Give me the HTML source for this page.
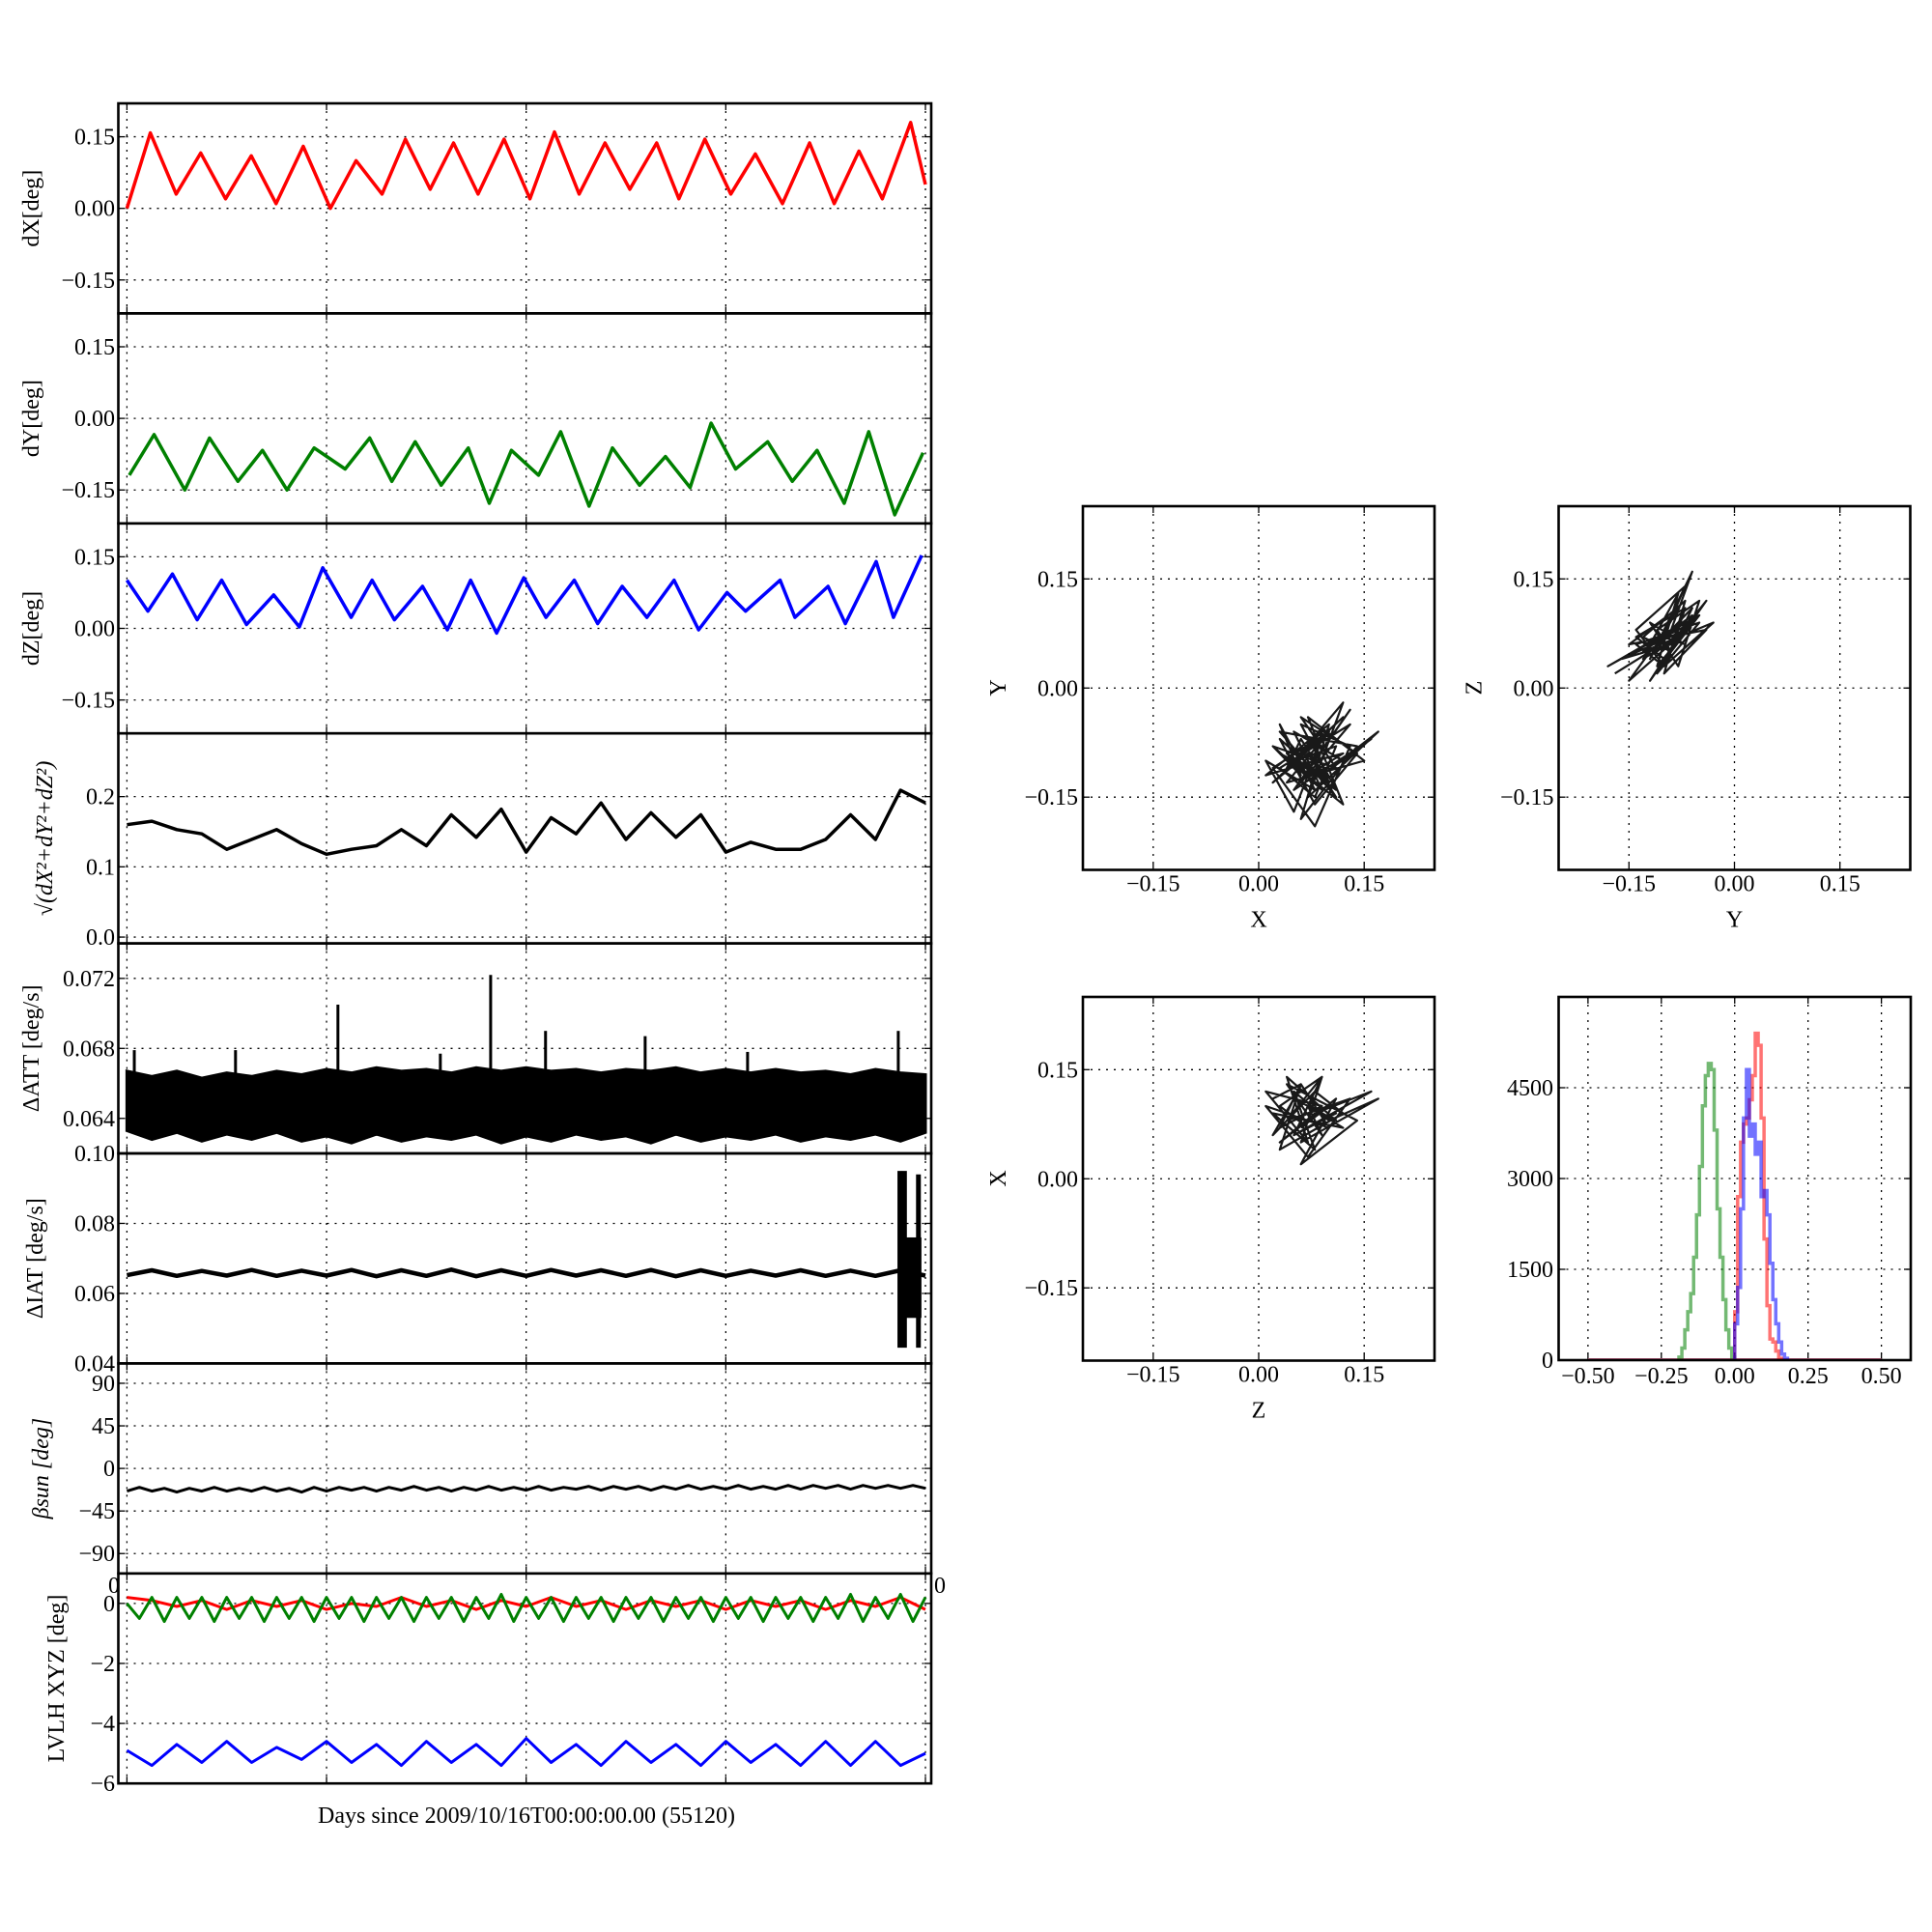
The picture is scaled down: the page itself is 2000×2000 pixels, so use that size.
<!DOCTYPE html>
<html><head><meta charset="utf-8"><style>
html,body{margin:0;padding:0;background:#fff;}
svg{display:block;font-family:"Liberation Serif",serif;}
</style></head><body>
<svg id="fig" width="2000" height="2000" viewBox="0 0 2000 2000" xmlns="http://www.w3.org/2000/svg"></svg>
<script>
// ---------------- data ----------------
const dxT=[0,0.117,0.247,0.370,0.494,0.623,0.747,0.883,1.019,1.148,1.278,1.395,1.519,1.636,1.759,1.889,2.019,2.142,2.265,2.395,2.519,2.654,2.765,2.895,3.025,3.148,3.284,3.420,3.543,3.667,3.784,3.926,4.0];
const dxV=[0.0,0.158,0.03,0.116,0.02,0.11,0.01,0.13,0.0,0.10,0.03,0.145,0.04,0.137,0.03,0.145,0.02,0.16,0.03,0.137,0.04,0.137,0.02,0.145,0.03,0.114,0.01,0.137,0.01,0.12,0.02,0.18,0.05];
const dyT=[0.012,0.136,0.290,0.414,0.556,0.679,0.802,0.938,1.093,1.216,1.327,1.444,1.574,1.710,1.815,1.926,2.062,2.173,2.315,2.432,2.568,2.698,2.821,2.926,3.049,3.210,3.333,3.457,3.593,3.716,3.846,3.988];
const dyV=[-0.119,-0.034,-0.150,-0.041,-0.132,-0.067,-0.150,-0.062,-0.106,-0.041,-0.132,-0.049,-0.140,-0.062,-0.178,-0.067,-0.119,-0.028,-0.184,-0.062,-0.140,-0.080,-0.145,-0.010,-0.106,-0.049,-0.132,-0.067,-0.178,-0.028,-0.202,-0.072];
const dzT=[0,0.105,0.228,0.352,0.475,0.599,0.735,0.864,0.981,1.123,1.228,1.340,1.481,1.605,1.722,1.852,1.988,2.099,2.241,2.358,2.481,2.605,2.741,2.864,3.006,3.099,3.272,3.346,3.512,3.599,3.753,3.840,3.981];
const dzV=[0.101,0.036,0.114,0.018,0.101,0.008,0.070,0.003,0.127,0.023,0.101,0.018,0.088,-0.003,0.101,-0.010,0.106,0.023,0.101,0.010,0.088,0.023,0.101,-0.003,0.075,0.036,0.101,0.023,0.088,0.010,0.140,0.023,0.153];
const normV=[0.160,0.165,0.153,0.147,0.125,0.139,0.153,0.133,0.118,0.125,0.130,0.153,0.130,0.174,0.142,0.182,0.121,0.170,0.147,0.191,0.139,0.177,0.142,0.174,0.121,0.135,0.125,0.125,0.139,0.174,0.139,0.209,0.191];
const attHi=[0.0667,0.0664,0.0667,0.0663,0.0666,0.0664,0.0667,0.0665,0.0668,0.0666,0.0669,0.0667,0.0668,0.0666,0.0669,0.0667,0.0669,0.0667,0.0668,0.0666,0.0668,0.0667,0.0669,0.0666,0.0668,0.0666,0.0668,0.0666,0.0667,0.0665,0.0668,0.0666,0.0665];
const attLo=[0.0633,0.0628,0.0632,0.0627,0.0631,0.0628,0.0632,0.0627,0.0630,0.0626,0.0631,0.0627,0.0630,0.0628,0.0631,0.0626,0.0630,0.0627,0.0631,0.0628,0.0630,0.0626,0.0631,0.0627,0.0630,0.0628,0.0631,0.0627,0.0630,0.0628,0.0631,0.0627,0.0632];
const spikeT=[0.037,0.544,1.057,1.570,1.822,2.097,2.596,3.109,3.864];
const spikeV=[0.0679,0.0679,0.0705,0.0677,0.0722,0.0690,0.0687,0.0678,0.0690];
const iatV=[0.0652,0.0666,0.0650,0.0664,0.0651,0.0667,0.0650,0.0665,0.0651,0.0667,0.0649,0.0666,0.0650,0.0668,0.0649,0.0666,0.0650,0.0667,0.0651,0.0666,0.0650,0.0667,0.0649,0.0666,0.0650,0.0665,0.0651,0.0666,0.0650,0.0665,0.0650,0.0666,0.0651];
const iatBlockT=[3.87,3.98];
const iatBlockV=[0.053,0.076];
const iatBlockSpikeT=[3.872,3.895,3.965];
const iatBlockSpikeLo=[0.0445,0.0445,0.0445];
const iatBlockSpikeHi=[0.0950,0.0950,0.0940];
const betaV=[-24,-20,-24,-21,-25,-21,-24,-20,-24,-21,-24,-20,-24,-21,-25,-20,-24,-20,-23,-20,-24,-20,-23,-19,-23,-20,-24,-20,-23,-19,-23,-20,-23,-19,-23,-20,-22,-19,-23,-19,-22,-19,-23,-19,-22,-18,-22,-19,-22,-18,-22,-19,-22,-18,-22,-18,-21,-18,-22,-18,-21,-18,-21,-18,-21];
const redV=[0.2,0.1,-0.1,0.1,-0.2,0.1,-0.1,0.1,-0.2,0.0,-0.1,0.2,-0.1,0.1,-0.2,0.1,-0.1,0.2,-0.1,0.1,-0.2,0.1,-0.1,0.1,-0.2,0.1,-0.1,0.1,-0.2,0.1,-0.1,0.2,-0.2];
const greenV=[0.0,-0.5,0.2,-0.6,0.2,-0.5,0.2,-0.6,0.2,-0.5,0.2,-0.6,0.2,-0.5,0.2,-0.6,0.2,-0.5,0.2,-0.6,0.2,-0.5,0.2,-0.6,0.2,-0.5,0.2,-0.6,0.2,-0.5,0.3,-0.6,0.2,-0.5,0.2,-0.6,0.2,-0.5,0.2,-0.6,0.2,-0.5,0.2,-0.6,0.2,-0.5,0.2,-0.6,0.2,-0.5,0.2,-0.6,0.2,-0.5,0.2,-0.6,0.2,-0.5,0.3,-0.6,0.2,-0.5,0.3,-0.6,0.2];
const blueV=[-4.9,-5.4,-4.7,-5.3,-4.6,-5.3,-4.8,-5.2,-4.6,-5.3,-4.7,-5.4,-4.6,-5.3,-4.7,-5.4,-4.5,-5.3,-4.7,-5.4,-4.6,-5.3,-4.7,-5.4,-4.6,-5.3,-4.7,-5.4,-4.6,-5.4,-4.6,-5.4,-5.0];
const xyX=[0.02,0.06,0.03,0.08,0.01,0.05,0.09,0.04,0.12,0.02,0.07,0.11,0.03,0.14,0.06,0.10,0.01,0.08,0.13,0.05,0.16,0.09,0.03,0.12,0.07,0.15,0.04,0.10,0.02,0.08,0.13,0.06,0.11,0.04,0.09,0.17,0.07,0.12,0.05,0.10,0.03,0.08,0.14,0.06,0.11,0.02,0.09,0.05,0.12,0.07,0.04,0.10,0.06,0.13,0.03,0.08,0.11,0.05,0.09,0.07,0.12,0.04,0.06,0.10,0.08];
const xyY=[-0.08,-0.12,-0.05,-0.14,-0.10,-0.17,-0.07,-0.11,-0.04,-0.13,-0.09,-0.15,-0.06,-0.08,-0.18,-0.05,-0.12,-0.10,-0.03,-0.14,-0.07,-0.12,-0.09,-0.16,-0.04,-0.10,-0.13,-0.06,-0.11,-0.19,-0.08,-0.05,-0.14,-0.09,-0.12,-0.06,-0.15,-0.02,-0.10,-0.13,-0.07,-0.16,-0.09,-0.04,-0.11,-0.08,-0.14,-0.06,-0.10,-0.12,-0.09,-0.07,-0.13,-0.05,-0.11,-0.15,-0.08,-0.10,-0.06,-0.12,-0.09,-0.11,-0.07,-0.13,-0.08];
const yzY=[-0.17,-0.12,-0.15,-0.08,-0.13,-0.06,-0.10,-0.14,-0.05,-0.11,-0.07,-0.16,-0.09,-0.04,-0.12,-0.06,-0.13,-0.08,-0.03,-0.10,-0.14,-0.07,-0.11,-0.05,-0.18,-0.09,-0.06,-0.12,-0.08,-0.15,-0.04,-0.10,-0.07,-0.13,-0.09,-0.05,-0.11,-0.08,-0.12,-0.06,-0.10,-0.14,-0.07,-0.09,-0.11,-0.05,-0.08,-0.12,-0.07,-0.10];
const yzZ=[0.02,0.05,0.01,0.07,0.04,0.11,0.03,0.06,0.09,0.02,0.08,0.04,0.06,0.12,0.01,0.10,0.05,0.07,0.09,0.03,0.08,0.14,0.05,0.10,0.03,0.08,0.16,0.04,0.11,0.06,0.08,0.02,0.12,0.07,0.05,0.10,0.03,0.13,0.06,0.09,0.04,0.07,0.11,0.05,0.08,0.12,0.03,0.09,0.06,0.07];
const zxZ=[0.02,0.06,0.03,0.09,0.01,0.07,0.04,0.11,0.05,0.02,0.08,0.12,0.03,0.06,0.10,0.01,0.07,0.13,0.04,0.09,0.05,0.16,0.08,0.03,0.11,0.06,0.14,0.04,0.09,0.07,0.12,0.02,0.08,0.05,0.10,0.17,0.06,0.09,0.03,0.07,0.11,0.05,0.08,0.04,0.10,0.06];
const zxX=[0.11,0.13,0.07,0.10,0.12,0.05,0.14,0.08,0.11,0.06,0.12,0.09,0.04,0.13,0.07,0.10,0.03,0.11,0.08,0.14,0.06,0.12,0.09,0.05,0.11,0.02,0.08,0.13,0.06,0.10,0.07,0.09,0.04,0.12,0.08,0.11,0.05,0.14,0.10,0.07,0.09,0.06,0.12,0.08,0.10,0.07];
const histBinsG=[-0.19,-0.18,-0.17,-0.16,-0.15,-0.14,-0.13,-0.12,-0.11,-0.10,-0.09,-0.08,-0.07,-0.06,-0.05,-0.04,-0.03,-0.02,-0.01];
const histG=[50,200,500,800,1100,1700,2400,3200,4200,4700,4900,4800,3800,2500,1700,1000,500,200,50];
const histBinsR=[0.00,0.01,0.02,0.03,0.04,0.05,0.06,0.07,0.08,0.09,0.10,0.11,0.12,0.13,0.14,0.15];
const histR=[800,2700,3600,3900,4000,4300,4700,5400,5200,4000,2000,900,350,300,150,30];
const histBinsB=[0.00,0.01,0.02,0.03,0.04,0.05,0.06,0.07,0.08,0.09,0.10,0.11,0.12,0.13,0.14,0.15,0.16,0.17];
const histB=[600,1200,2500,4000,4800,3700,3900,3400,3600,2700,2800,2400,1600,1000,600,300,100,30];
const dayTicks=[0,1,2,3,4];
const devTicks=[-0.15,0,0.15];
const devTickLabels=["\u22120.15","0.00","0.15"];
const histXTicks=[-0.5,-0.25,0,0.25,0.5];
const histXLabels=["\u22120.50","\u22120.25","0.00","0.25","0.50"];
const histYTicks=[0,1500,3000,4500];
const histYLabels=["0","1500","3000","4500"];

// ---------------- drawing ----------------
const NS="http://www.w3.org/2000/svg";
const FS=24;
const svg=document.getElementById('fig');
function el(tag,attrs,parent){const e=document.createElementNS(NS,tag);for(const k in attrs)e.setAttribute(k,attrs[k]);(parent||svg).appendChild(e);return e;}
function txt(s,x,y,opt,parent){const t=el('text',Object.assign({x:x,y:y,'font-size':FS,fill:'#000'},opt||{}),parent);t.textContent=s;return t;}
function mkAxes(name,x0,y0,w,h,xmin,xmax,ymin,ymax){
  const g=el('g',{});
  
  
  const sx=v=>x0+(v-xmin)/(xmax-xmin)*w;
  const sy=v=>y0+h-(v-ymin)/(ymax-ymin)*h;
  return {g,sx,sy,x0,y0,w,h};
}
function grid(a,xt,yt){
  xt.forEach(v=>{const x=a.sx(v);
    const l=el('line',{x1:x,x2:x,y1:a.y0,y2:a.y0+a.h,stroke:'#000','stroke-width':1.3,'stroke-dasharray':'2,6'},a.g);
    
    el('line',{x1:x,x2:x,y1:a.y0,y2:a.y0+7,stroke:'#000','stroke-width':1.3},a.g);
    el('line',{x1:x,x2:x,y1:a.y0+a.h,y2:a.y0+a.h-7,stroke:'#000','stroke-width':1.3},a.g);});
  yt.forEach(v=>{const y=a.sy(v);
    const l=el('line',{x1:a.x0,x2:a.x0+a.w,y1:y,y2:y,stroke:'#000','stroke-width':1.3,'stroke-dasharray':'2,6'},a.g);
    
    el('line',{x1:a.x0,x2:a.x0+7,y1:y,y2:y,stroke:'#000','stroke-width':1.3},a.g);
    el('line',{x1:a.x0+a.w,x2:a.x0+a.w-7,y1:y,y2:y,stroke:'#000','stroke-width':1.3},a.g);});
}
function frame(a){const r=el('rect',{x:a.x0,y:a.y0,width:a.w,height:a.h,fill:'none',stroke:'#000','stroke-width':2.6},a.g);
  }
function ylabels(a,ticks,labels,xr){ticks.forEach((v,i)=>{const t=txt(labels[i],xr,a.sy(v)+8,{'text-anchor':'end'},a.g);
  });}
function xlabels(a,ticks,labels,y){ticks.forEach((v,i)=>{const t=txt(labels[i],a.sx(v),y,{'text-anchor':'middle'},a.g);
  });}
function line(a,xs,ys,color,wd,name,op){const p=xs.map((x,i)=>a.sx(x).toFixed(1)+','+a.sy(ys[i]).toFixed(1)).join(' ');
  const l=el('polyline',{points:p,fill:'none',stroke:color,'stroke-width':wd,'stroke-linejoin':'round','stroke-opacity':op||1},a.g);
  return l;}
function ylab(s,x,y,opt){const t=txt(s,x,y,Object.assign({'text-anchor':'middle',transform:`rotate(-90 ${x} ${y})`},opt||{}));
  return t;}
function stepT(n,dt){return Array.from({length:n},(_,i)=>i*dt);}

const L=122.5,W=841.5,T0=107,PH=217.4,XMIN=-0.043,XMAX=4.029;
function panel(i,name,ymin,ymax,ticks,labels){const a=mkAxes(name,L,T0+i*PH,W,PH,XMIN,XMAX,ymin,ymax);grid(a,dayTicks,ticks);ylabels(a,ticks,labels,119);return a;}

let a=panel(0,'dx-panel',-0.22,0.22,devTicks,devTickLabels);
line(a,dxT,dxV,'#ff0000',3.5,'dx-series');frame(a);ylab('dX[deg]',40,T0+0*PH+PH/2);
a=panel(1,'dy-panel',-0.22,0.22,devTicks,devTickLabels);
line(a,dyT,dyV,'#008000',3.5,'dy-series');frame(a);ylab('dY[deg]',40,T0+1*PH+PH/2);
a=panel(2,'dz-panel',-0.22,0.22,devTicks,devTickLabels);
line(a,dzT,dzV,'#0000ff',3.5,'dz-series');frame(a);ylab('dZ[deg]',40,T0+2*PH+PH/2);
a=panel(3,'norm-panel',-0.009,0.29,[0,0.1,0.2],["0.0","0.1","0.2"]);
line(a,stepT(normV.length,0.125),normV,'#000',3.5,'norm-series');frame(a);
ylab('\u221A(dX\u00B2+dY\u00B2+dZ\u00B2)',54,T0+3*PH+PH/2,{'font-style':'italic'});
a=panel(4,'datt-panel',0.062,0.074,[0.064,0.068,0.072],["0.064","0.068","0.072"]);
{const tt=stepT(attHi.length,0.125);
 const pts=tt.map((t,i)=>a.sx(t)+','+a.sy(attHi[i])).concat(tt.slice().reverse().map((t,j)=>{const i=tt.length-1-j;return a.sx(t)+','+a.sy(attLo[i]);})).join(' ');
 const p=el('polygon',{points:pts,fill:'#000',stroke:'#000','stroke-width':3},a.g);
 
 spikeT.forEach((t,i)=>{const s=el('line',{x1:a.sx(t),x2:a.sx(t),y1:a.sy(0.0665),y2:a.sy(spikeV[i]),stroke:'#000','stroke-width':3},a.g);
  });}
frame(a);ylab('\u0394ATT [deg/s]',40,T0+4*PH+PH/2);
a=panel(5,'diat-panel',0.04,0.10,[0.04,0.06,0.08,0.10],["0.04","0.06","0.08","0.10"]);
line(a,stepT(iatV.length,0.125),iatV,'#000',4.5,'diat-series');
{const r=el('rect',{x:a.sx(iatBlockT[0]),y:a.sy(iatBlockV[1]),width:a.sx(iatBlockT[1])-a.sx(iatBlockT[0]),height:a.sy(iatBlockV[0])-a.sy(iatBlockV[1]),fill:'#000'},a.g);
 
 iatBlockSpikeT.forEach((t,i)=>{const s=el('line',{x1:a.sx(t),x2:a.sx(t),y1:a.sy(iatBlockSpikeLo[i]),y2:a.sy(iatBlockSpikeHi[i]),stroke:'#000','stroke-width':5},a.g);
  });}
frame(a);ylab('\u0394IAT [deg/s]',44,T0+5*PH+PH/2);
a=panel(6,'beta-panel',-111,111,[-90,-45,0,45,90],["\u221290","\u221245","0","45","90"]);
line(a,stepT(betaV.length,0.0625),betaV,'#000',3,'beta-series');frame(a);
ylab('\u03B2sun [deg]',50,T0+6*PH+PH/2,{'font-style':'italic'});
a=panel(7,'lvlh-panel',-6,1,[-6,-4,-2,0],["\u22126","\u22124","\u22122","0"]);
line(a,stepT(redV.length,0.125),redV,'#ff0000',3,'lvlh-x-series');
line(a,stepT(greenV.length,0.0625),greenV,'#008000',3,'lvlh-y-series');
line(a,stepT(blueV.length,0.125),blueV,'#0000ff',3,'lvlh-z-series');frame(a);
ylab('LVLH XYZ [deg]',66,T0+7*PH+PH/2);
{let t=txt('0',118,1649,{'text-anchor':'middle'});
 t=txt('0',973,1649,{'text-anchor':'middle'});}
{const t=txt('Days since 2009/10/16T00:00:00.00 (55120)',545,1887,{'text-anchor':'middle'});}

// scatter panels
function scatterPanel(name,x0,y0,xs,ys,xl,yl){
  const s=mkAxes(name,x0,y0,364,376.5,-0.25,0.25,-0.25,0.25);
  grid(s,devTicks,devTicks);
  line(s,xs,ys,'#000',2.2,'trajectory',0.9);
  frame(s);ylabels(s,devTicks,devTickLabels,x0-5);xlabels(s,devTicks,devTickLabels,y0+376.5+22);
  let t=txt(xl,x0+182,y0+376.5+59,{'text-anchor':'middle'},s.g);
  const yx=x0-80,yy=y0+188;
  t=txt(yl,yx,yy,{'text-anchor':'middle',transform:`rotate(-90 ${yx} ${yy})`},s.g);
}
scatterPanel('xy-scatter',1121,524,xyX,xyY,'X','Y');
scatterPanel('yz-scatter',1613.5,524,yzY,yzZ,'Y','Z');
scatterPanel('zx-scatter',1121,1032,zxZ,zxX,'Z','X');

// histogram
{const h=mkAxes('histogram',1613.5,1032,364.5,376,-0.6,0.6,0,6000);
 grid(h,histXTicks,[1500,3000,4500]);
 const base=el('line',{x1:h.sx(-0.5),x2:h.sx(0.5),y1:h.sy(0)-1,y2:h.sy(0)-1,stroke:'#c06080','stroke-width':2},h.g);
 
 function step(bins,vals,color,name){let d='M'+h.sx(bins[0])+','+h.sy(0);
  bins.forEach((b,i)=>{d+=' L'+h.sx(b)+','+h.sy(vals[i])+' L'+h.sx(b+0.01)+','+h.sy(vals[i]);});
  d+=' L'+h.sx(bins[bins.length-1]+0.01)+','+h.sy(0);
  const p=el('path',{d:d,fill:'none',stroke:color,'stroke-width':3.5,'stroke-opacity':0.55},h.g);
  }
 step(histBinsG,histG,'#008000','hist-y');
 step(histBinsR,histR,'#ff0000','hist-x');
 step(histBinsB,histB,'#0000ff','hist-z');
 frame(h);ylabels(h,histYTicks,histYLabels,1608);xlabels(h,histXTicks,histXLabels,1032+376+24);}
</script>
</body></html>
